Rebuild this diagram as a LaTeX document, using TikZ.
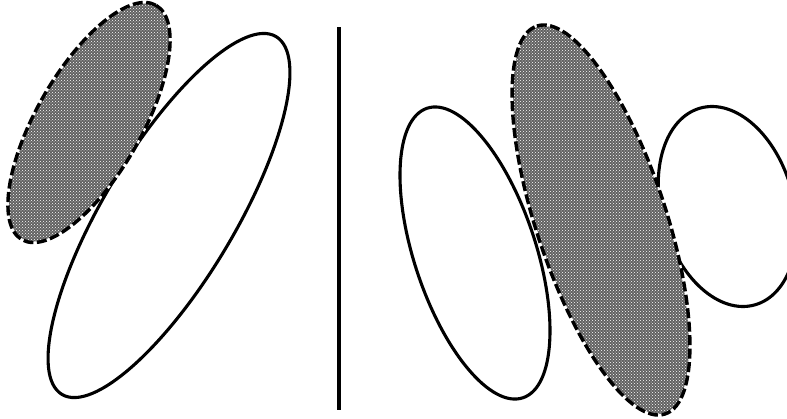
\documentclass[tikz,border=0pt]{standalone}
\usetikzlibrary{patterns}
\tikzset{
  outl/.style={draw=black, line width=3.1pt, fill=white},
  hatchfill/.style={fill=black!62},
  hatchdots/.style={pattern=crosshatch dots, pattern color=white},
  dashborder/.style={draw=black, line width=3.4pt, dash pattern=on 10pt off 3.5pt},
  gapborder/.style={draw=white, line width=2pt},
}
\begin{document}
\begin{tikzpicture}[x=1pt,y=-1pt]
\useasboundingbox (0,0) rectangle (787,418);
% left panel
\draw[outl] (169,215.5) ellipse[x radius=208.5, y radius=65.5, rotate=59.1];
\fill[hatchfill] (89,122.5) ellipse[x radius=135, y radius=52.5, rotate=60.2];
\fill[hatchdots] (89,122.5) ellipse[x radius=135, y radius=52.5, rotate=60.2];
\draw[gapborder] (89,122.5) ellipse[x radius=135, y radius=52.5, rotate=60.2];
\draw[dashborder] (89,122.5) ellipse[x radius=135, y radius=52.5, rotate=60.2];
% divider
\draw[line width=3.1pt] (339,27) -- (339,410);
% right panel
\draw[outl] (475,253) ellipse[x radius=152.5, y radius=60.8, rotate=108.3];
\draw[outl] (727.5,206.5) ellipse[x radius=102.1, y radius=66.1, rotate=105.4];
\fill[hatchfill] (601,220) ellipse[x radius=204.3, y radius=64.9, rotate=108.3];
\fill[hatchdots] (601,220) ellipse[x radius=204.3, y radius=64.9, rotate=108.3];
\draw[gapborder] (601,220) ellipse[x radius=204.3, y radius=64.9, rotate=108.3];
\draw[dashborder] (601,220) ellipse[x radius=204.3, y radius=64.9, rotate=108.3];
\end{tikzpicture}
\end{document}
